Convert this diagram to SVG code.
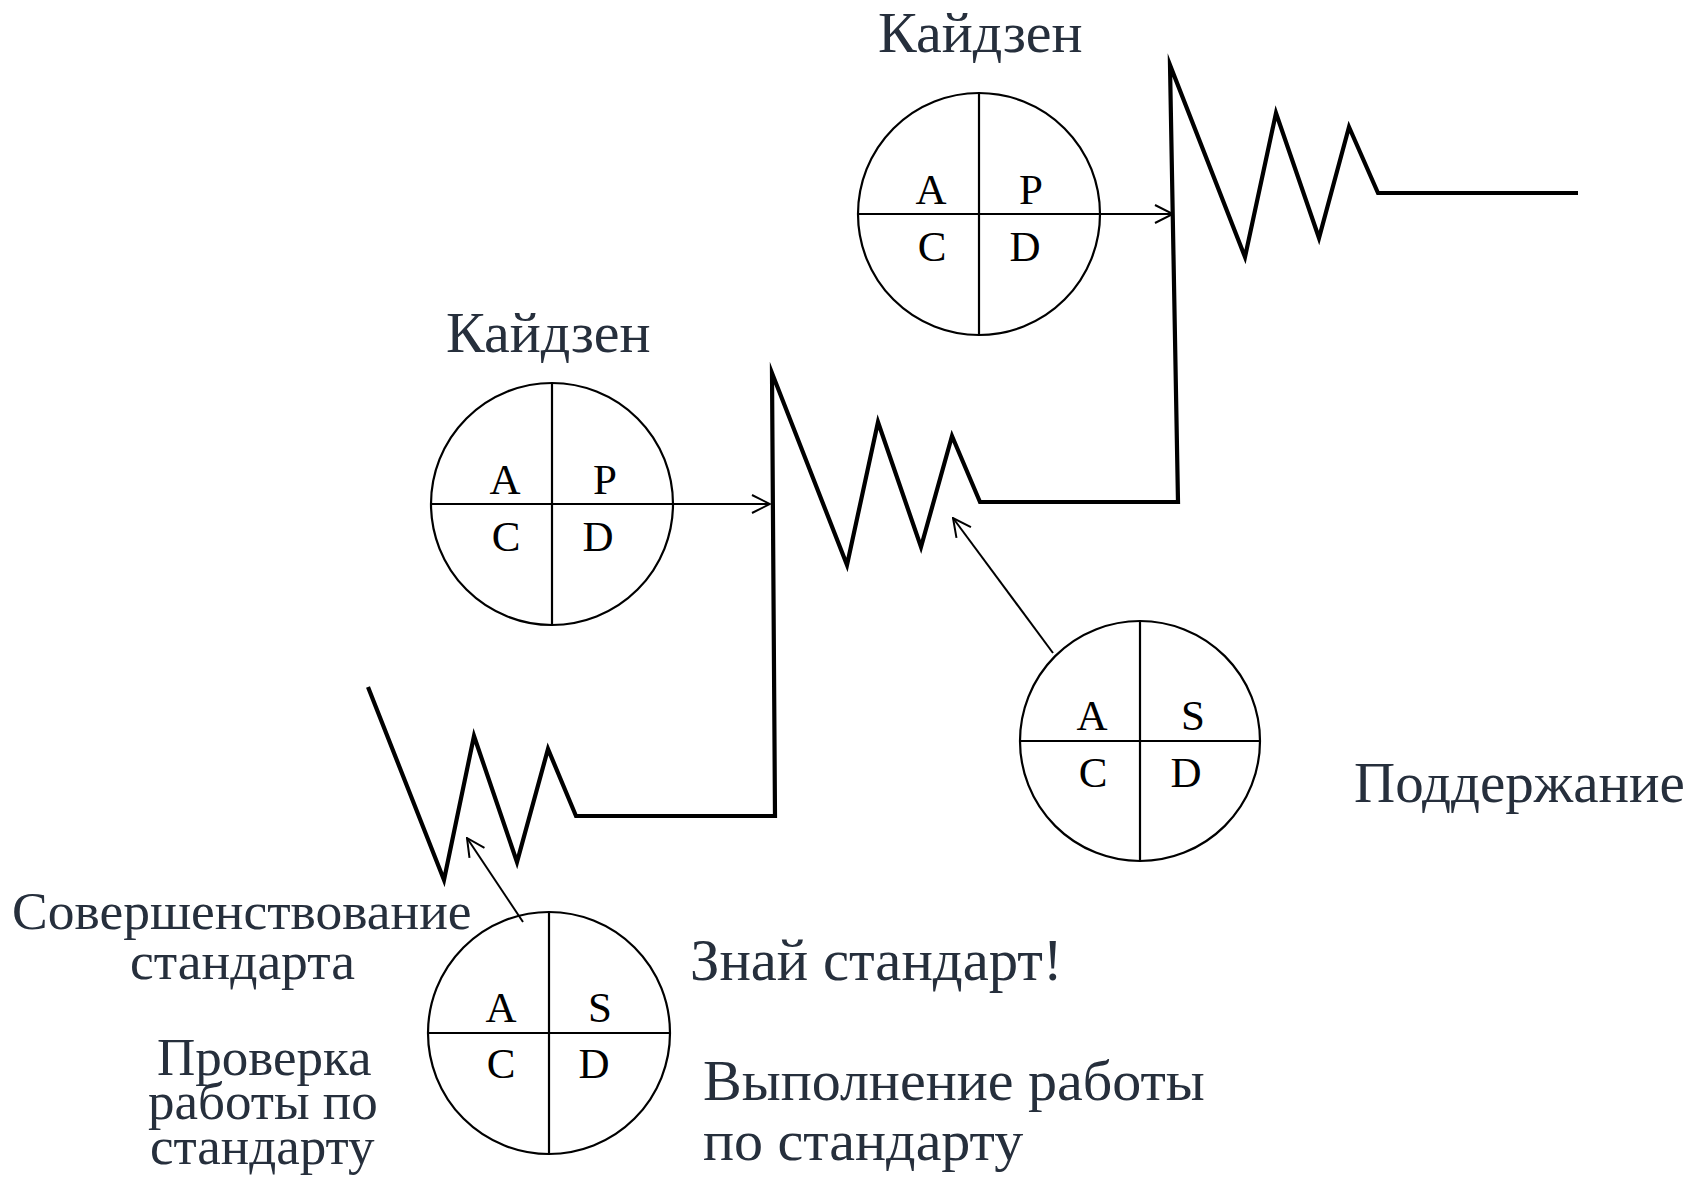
<svg xmlns="http://www.w3.org/2000/svg" width="1698" height="1177" viewBox="0 0 1698 1177">
<style>
.bg{fill:#ffffff}
.circ{fill:none;stroke:#000;stroke-width:2.2}
.div{stroke:#000;stroke-width:2.2}
.ltr{font-family:"Liberation Serif","Times New Roman",serif;font-size:43px;fill:#000;text-anchor:middle}
.lbl{font-family:"Liberation Serif","Times New Roman",serif;fill:#262f3c}
.stair{fill:none;stroke:#000;stroke-width:4.2;stroke-linejoin:miter;stroke-miterlimit:20}
.arr{fill:none;stroke:#000;stroke-width:2}
</style>
<defs>
<marker id="ah" viewBox="0 0 20 20" refX="19" refY="10" markerWidth="20" markerHeight="20" markerUnits="userSpaceOnUse" orient="auto">
<path d="M1,1 L19,10 L1,19" fill="none" stroke="#000" stroke-width="2"/>
</marker>
</defs>
<rect class="bg" x="0" y="0" width="1698" height="1177"/>

<g id="connectors">
<path id="stairs" class="stair" d="M368,687 L444,880 L474,736 L517,862 L548,749 L576,816 L775,816 L772,373 L847,565 L878,422 L921,547 L952,436 L980,502 L1178,502 L1170,65 L1245,257 L1276,113 L1319,238 L1349,127 L1378,193 L1578,193"/>
<line class="arr" x1="1100" y1="214" x2="1173" y2="214" marker-end="url(#ah)"/>
<line class="arr" x1="673" y1="504" x2="770" y2="504" marker-end="url(#ah)"/>
<line class="arr" x1="1053" y1="653" x2="953" y2="518" marker-end="url(#ah)"/>
<line class="arr" x1="523" y1="922" x2="467" y2="838" marker-end="url(#ah)"/>
</g>

<g id="kaizen-top">
<circle class="circ" cx="979" cy="214" r="121"/>
<line class="div" x1="858" y1="214" x2="1100" y2="214"/>
<line class="div" x1="979" y1="93" x2="979" y2="335"/>
<text class="ltr" x="931" y="204">A</text>
<text class="ltr" x="1031" y="204">P</text>
<text class="ltr" x="932" y="261">C</text>
<text class="ltr" x="1025" y="261">D</text>
<text class="lbl" x="878" y="52" font-size="58">Кайдзен</text>
</g>

<g id="kaizen-mid">
<circle class="circ" cx="552" cy="504" r="121"/>
<line class="div" x1="431" y1="504" x2="673" y2="504"/>
<line class="div" x1="552" y1="383" x2="552" y2="625"/>
<text class="ltr" x="505" y="494">A</text>
<text class="ltr" x="605" y="494">P</text>
<text class="ltr" x="506" y="551">C</text>
<text class="ltr" x="598" y="551">D</text>
<text class="lbl" x="446" y="352" font-size="58">Кайдзен</text>
</g>

<g id="maintain-right">
<circle class="circ" cx="1140" cy="741" r="120"/>
<line class="div" x1="1020" y1="741" x2="1260" y2="741"/>
<line class="div" x1="1140" y1="621" x2="1140" y2="861"/>
<text class="ltr" x="1092" y="730">A</text>
<text class="ltr" x="1193" y="730">S</text>
<text class="ltr" x="1093" y="787">C</text>
<text class="ltr" x="1186" y="787">D</text>
<text class="lbl" x="1354" y="802" font-size="57">Поддержание</text>
</g>

<g id="maintain-bottom">
<circle class="circ" cx="549" cy="1033" r="121"/>
<line class="div" x1="428" y1="1033" x2="670" y2="1033"/>
<line class="div" x1="549" y1="912" x2="549" y2="1154"/>
<text class="ltr" x="501" y="1022">A</text>
<text class="ltr" x="600" y="1022">S</text>
<text class="ltr" x="501" y="1078">C</text>
<text class="ltr" x="594" y="1078">D</text>
</g>

<g id="labels">
<text class="lbl" font-size="53.5"><tspan x="12" y="929">Совершенствование</tspan><tspan x="130" y="979">стандарта</tspan></text>
<text class="lbl" font-size="53"><tspan x="157" y="1075">Проверка</tspan><tspan x="148" y="1119">работы по</tspan><tspan x="150" y="1164">стандарту</tspan></text>
<text class="lbl" x="690" y="980" font-size="58.7">Знай стандарт!</text>
<text class="lbl" font-size="58"><tspan x="703" y="1100">Выполнение работы</tspan><tspan x="703" y="1160">по стандарту</tspan></text>
</g>
</svg>
